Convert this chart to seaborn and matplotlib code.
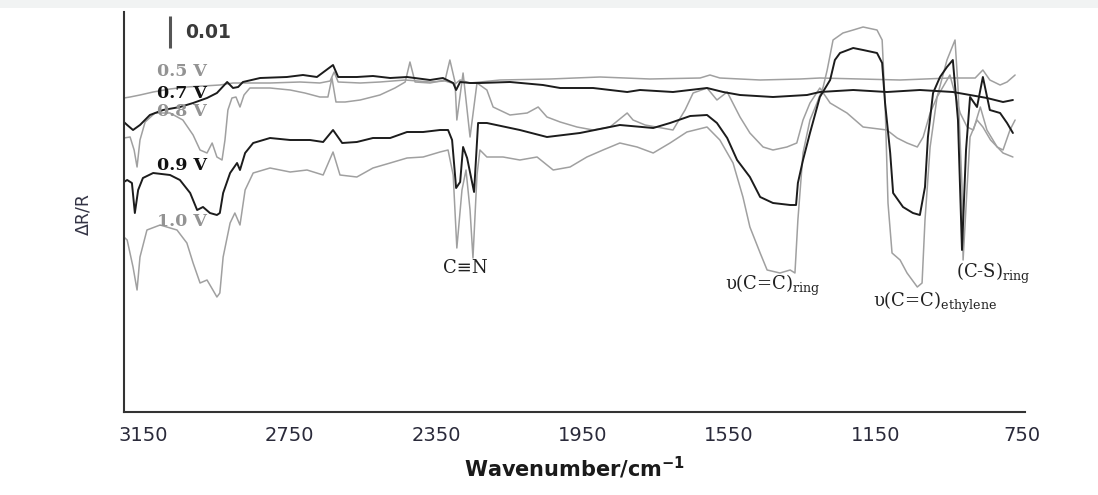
import matplotlib
matplotlib.use("Agg")
import matplotlib.pyplot as plt
import seaborn as sns
import pandas as pd
from matplotlib.patches import Rectangle

# ---------------- data (wavenumber / cm-1, offset dR/R in a.u.; 32 a.u. = 0.01) -------------
POTENTIALS = ["0.5 V", "0.7 V", "0.8 V", "0.9 V", "1.0 V"]

S05 = [(3202,202),(3185,203),(3158,205),(3122,208),(3076,211),(3030,213),(2986,214),(2940,215),
       (2904,217),(2849,217),(2803,217),(2721,218),(2667,217),(2639,219),(2628,228),(2617,218),
       (2557,217),(2503,218),(2434,220),(2366,218),(2325,219),(2298,216),(2284,220),(2257,217),
       (2175,220),(2039,221),(1902,223),(1766,221),(1629,222),(1602,225),(1575,222),(1465,220),
       (1356,221),(1302,222),(1192,221),(1083,220),(947,222),(878,222),(857,230),(838,220),
       (810,215),(791,218),(769,225)]

S07 = [(3202,178),(3193,175),(3177,170),(3158,175),(3131,185),(3095,190),(3049,193),(3013,197),
       (2975,202),(2948,207),(2920,218),(2904,212),(2890,213),(2877,218),(2830,222),(2757,223),
       (2713,225),(2675,223),(2631,235),(2617,223),(2566,223),(2522,224),(2475,222),(2429,223),
       (2366,220),(2331,222),(2303,217),(2295,210),(2284,218),(2257,217),(2230,217),(2148,218),
       (2058,215),(2011,212),(1921,212),(1828,208),(1793,210),(1703,208),(1610,212),(1566,208),
       (1520,205),(1430,203),(1337,205),(1302,208),(1211,210),(1119,208),(1029,210),(939,208),
       (892,205),(846,202),(802,198),(775,200)]

S08 = [(3202,162),(3185,163),(3174,150),(3166,133),(3158,160),(3144,178),(3117,187),(3076,187),
       (3041,180),(3013,165),(2994,150),(2975,147),(2961,157),(2948,143),(2934,140),(2926,160),
       (2918,190),(2907,202),(2896,203),(2885,193),(2874,205),(2858,212),(2803,212),(2748,210),
       (2708,207),(2667,203),(2645,203),(2634,222),(2623,198),(2598,198),(2557,200),(2503,205),
       (2462,212),(2434,218),(2421,238),(2407,218),(2366,217),(2325,220),(2312,240),(2298,218),
       (2293,180),(2276,227),(2257,163),(2238,217),(2211,210),(2194,193),(2148,185),(2101,187),
       (2071,193),(2047,183),(2011,178),(1965,173),(1921,170),(1875,173),(1828,187),(1812,180),
       (1779,175),(1703,170),(1670,190),(1648,207),(1610,212),(1583,200),(1555,208),(1520,183),
       (1493,167),(1457,153),(1430,150),(1392,153),(1365,157),(1348,180),(1329,197),(1302,212),
       (1274,197),(1228,187),(1184,173),(1119,170),(1091,162),(1064,157),(1036,153),(1020,163),
       (1001,187),(982,203),(947,225),(919,187),(900,173),(883,170),(864,193),(846,170),
       (818,153),(802,150),(783,170),(769,180)]

S09 = [(3202,118),(3193,120),(3180,117),(3172,87),(3163,110),(3150,122),(3122,127),(3076,125),
       (3049,120),(3021,107),(3002,90),(2986,93),(2967,87),(2948,85),(2940,87),(2931,107),
       (2912,127),(2893,137),(2885,130),(2871,147),(2849,157),(2803,162),(2748,160),(2694,160),
       (2658,158),(2631,170),(2606,157),(2566,158),(2522,162),(2475,162),(2429,168),(2385,168),
       (2339,170),(2317,170),(2306,160),(2295,112),(2284,118),(2276,153),(2265,142),(2246,108),
       (2235,177),(2211,177),(2121,170),(2047,163),(1957,167),(1848,175),(1757,172),(1711,177),
       (1656,184),(1610,185),(1583,177),(1555,162),(1528,140),(1493,123),(1465,103),(1430,97),
       (1383,95),(1367,95),(1362,117),(1348,140),(1329,167),(1302,203),(1274,220),(1261,240),
       (1247,247),(1211,252),(1184,250),(1146,247),(1132,237),(1124,197),(1110,147),(1102,107),
       (1075,93),(1048,87),(1029,85),(1015,113),(1007,163),(993,207),(974,223),(955,233),
       (939,240),(925,180),(914,50),(903,150),(892,203),(873,193),(857,223),(838,190),
       (810,187),(791,177),(775,167)]

S10 = [(3202,63),(3193,60),(3177,33),(3166,10),(3158,43),(3139,70),(3103,75),(3057,70),
       (3030,57),(3013,37),(2994,17),(2975,20),(2959,10),(2948,3),(2940,7),(2931,43),
       (2912,77),(2899,87),(2885,75),(2871,110),(2849,127),(2803,132),(2748,128),(2702,130),
       (2658,125),(2631,148),(2612,125),(2566,123),(2522,132),(2475,137),(2429,142),(2385,143),
       (2339,148),(2317,150),(2303,125),(2293,52),(2279,110),(2268,130),(2257,90),(2249,42),
       (2238,125),(2230,150),(2211,143),(2167,143),(2121,140),(2074,143),(2030,130),(1984,133),
       (1938,143),(1894,150),(1848,157),(1801,153),(1757,147),(1711,157),(1665,168),(1610,173),
       (1575,160),(1539,137),(1512,103),(1493,73),(1465,47),(1446,30),(1411,27),(1383,30),
       (1370,27),(1362,80),(1348,147),(1329,180),(1310,197),(1293,213),(1282,230),(1266,260),
       (1239,267),(1211,270),(1184,273),(1146,270),(1132,260),(1124,197),(1116,97),(1105,47),
       (1083,40),(1064,27),(1036,13),(1023,17),(1015,80),(1001,153),(982,203),(955,240),
       (933,260),(925,213),(914,113),(911,40),(900,113),(892,163),(873,180),(857,173),
       (836,160),(802,147),(775,143)]

SERIES = {"0.5 V": S05, "0.7 V": S07, "0.8 V": S08, "0.9 V": S09, "1.0 V": S10}
LABEL_LEVEL = {"0.5 V": 228, "0.7 V": 207, "0.8 V": 189, "0.9 V": 134, "1.0 V": 78}
XTICKS = [3150, 2750, 2350, 1950, 1550, 1150, 750]
SCALE_BAR = 32  # a.u. corresponding to dR/R = 0.01

# ---------------- style ----------------
sns.set_theme(style="white")
plt.rcParams["font.family"] = ["DejaVu Sans"]

GRAY = "#a0a0a0"
BLACK = "#1c1c1c"
colors = {"0.5 V": GRAY, "0.7 V": BLACK, "0.8 V": GRAY, "0.9 V": BLACK, "1.0 V": GRAY}
widths = {"0.5 V": 1.1, "0.7 V": 1.4, "0.8 V": 1.1, "0.9 V": 1.4, "1.0 V": 1.1}

rows = []
for name, pts in SERIES.items():
    for wn, v in pts:
        rows.append({"potential": name, "wn": wn, "val": v})
df = pd.DataFrame(rows)

fig = plt.figure(figsize=(10.98, 4.95), dpi=100, facecolor="white")
fig.patches.append(Rectangle((0, 1 - 8 / 495), 1, 8 / 495, transform=fig.transFigure,
                             facecolor="#f1f3f3", edgecolor="none", zorder=0))
ax = fig.add_axes([123.5 / 1098, 1 - 412 / 495, (1025 - 123.5) / 1098, 400 / 495])
ax.set_facecolor("white")

for name in ["0.5 V", "0.8 V", "1.0 V", "0.7 V", "0.9 V"]:
    sub = df[df["potential"] == name]
    sns.lineplot(data=sub, x="wn", y="val", ax=ax, color=colors[name], lw=widths[name],
                 sort=False, estimator=None, legend=False)

ax.set_xlim(3203, 742)
ax.set_ylim(-112, 288)

# potential labels
for name in POTENTIALS:
    ax.text(3112, LABEL_LEVEL[name], name, ha="left", va="center", fontsize=12.5,
            fontweight="bold", color=("#939393" if colors[name] == GRAY else "#111111"),
            family="DejaVu Serif")

# band assignments
ann_kw = dict(fontsize=13, color="#222222", family="DejaVu Serif",
              math_fontfamily="dejavuserif")
ax.text(2271, 32, "C\u2261N", ha="center", va="center", **ann_kw)
ax.text(1561, 15, "\u03c5(C=C)$_{\\rm ring}$", ha="left", va="center", **ann_kw)
ax.text(1157, -2, "\u03c5(C=C)$_{\\rm ethylene}$", ha="left", va="center", **ann_kw)
ax.text(930, 27, "(C-S)$_{\\rm ring}$", ha="left", va="center", **ann_kw)

# scale bar
ax.plot([3076, 3076], [284 - SCALE_BAR, 284], color="#555555", lw=2.2, solid_capstyle="butt")
ax.text(3036, 268, "0.01", ha="left", va="center", fontsize=13.5, fontweight="bold",
        color="#3a3a3a")

# axes styling
for s in ["top", "right"]:
    ax.spines[s].set_visible(False)
for s in ["left", "bottom"]:
    ax.spines[s].set_color("#333333")
    ax.spines[s].set_linewidth(1.5)
ax.set_yticks([])
ax.set_xticks(XTICKS)
ax.set_xticklabels([str(t) for t in XTICKS])
ax.tick_params(axis="x", direction="in", length=3, width=1.2, color="#333333",
               pad=10, labelsize=14, labelcolor="#2a2a3a")
ax.tick_params(axis="y", left=False)
ax.set_xlabel("Wavenumber/cm$^{\\mathbf{-1}}$", fontsize=15, fontweight="bold",
              color="#1a1a1a")
ax.xaxis.set_label_coords(0.5, -(455 - 412) / 400)
ax.set_ylabel("\u0394R/R", fontsize=12.5, color="#333344")
ax.yaxis.set_label_coords(-(123.5 - 92) / (1025 - 123.5), (412 - 214) / 400)

fig.savefig("out.png", dpi=100, facecolor="white")
